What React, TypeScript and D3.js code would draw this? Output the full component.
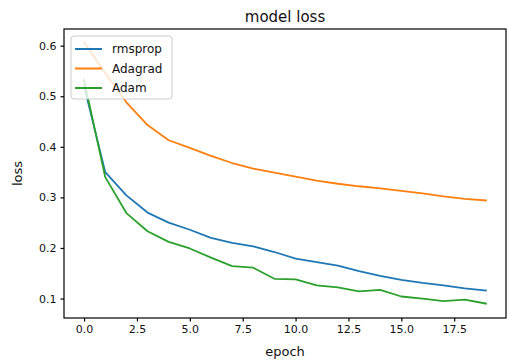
import React, { useEffect, useRef } from "react";
import * as d3 from "d3";

const epochs = d3.range(0, 20);

const rmsprop = [
  0.52, 0.35, 0.304, 0.27, 0.25, 0.236, 0.22, 0.21, 0.203, 0.192, 0.179, 0.172,
  0.165, 0.154, 0.145, 0.137, 0.131, 0.126, 0.12, 0.116,
];
const adagrad = [
  0.607, 0.546, 0.488, 0.443, 0.413, 0.398, 0.382, 0.368, 0.357, 0.349, 0.341,
  0.333, 0.327, 0.322, 0.318, 0.313, 0.308, 0.302, 0.297, 0.294,
];
const adam = [
  0.532, 0.34, 0.269, 0.233, 0.212, 0.199, 0.181, 0.164, 0.161, 0.139, 0.138,
  0.126, 0.122, 0.114, 0.117, 0.104, 0.1, 0.095, 0.098, 0.09,
];

const seriesNames = ["rmsprop", "Adagrad", "Adam"];
const seriesColors = ["#1f77b4", "#ff7f0e", "#2ca02c"];
const xTicks = [0, 2.5, 5, 7.5, 10, 12.5, 15, 17.5];
const yTicks = [0.1, 0.2, 0.3, 0.4, 0.5, 0.6];

const W = 508;
const H = 361;
const margin = { top: 29, right: 2, bottom: 43, left: 64 };

const App: React.FC = () => {
  const ref = useRef<SVGSVGElement | null>(null);

  useEffect(() => {
    if (!ref.current) return;
    const root = d3.select(ref.current);
    root.selectAll("*").remove();

    const width = W - margin.left - margin.right;
    const height = H - margin.top - margin.bottom;
    const font = "DejaVu Sans, sans-serif";

    root.append("rect").attr("width", W).attr("height", H).attr("fill", "#fff");

    const g = root
      .append("g")
      .attr("transform", `translate(${margin.left},${margin.top})`);

    const x = d3.scaleLinear().domain([-0.95, 19.95]).range([0, width]);
    const y = d3.scaleLinear().domain([0.0615, 0.633]).range([height, 0]);

    // lines
    const data = [rmsprop, adagrad, adam];
    const line = d3
      .line<number>()
      .x((_, i) => x(epochs[i]))
      .y((d) => y(d));

    data.forEach((vals, i) => {
      g.append("path")
        .datum(vals)
        .attr("fill", "none")
        .attr("stroke", seriesColors[i])
        .attr("stroke-width", 1.8)
        .attr("stroke-linejoin", "round")
        .attr("stroke-linecap", "square")
        .attr("d", line);
    });

    // axes
    const xAxis = g
      .append("g")
      .attr("transform", `translate(0,${height})`)
      .call(
        d3
          .axisBottom(x)
          .tickValues(xTicks)
          .tickFormat(d3.format(".1f"))
          .tickSize(3.5)
          .tickPadding(4)
      );
    const yAxis = g.append("g").call(
      d3
        .axisLeft(y)
        .tickValues(yTicks)
        .tickFormat(d3.format(".1f"))
        .tickSize(3.5)
        .tickPadding(4)
    );
    [xAxis, yAxis].forEach((a) => {
      a.select(".domain").remove();
      a.selectAll("line").attr("stroke", "#000").attr("stroke-width", 1.2);
      a.selectAll("text")
        .attr("font-family", font)
        .attr("font-size", 11)
        .attr("fill", "#111");
    });

    // spines
    g.append("rect")
      .attr("width", width)
      .attr("height", height)
      .attr("fill", "none")
      .attr("stroke", "#000")
      .attr("stroke-width", 1.2);

    // legend
    const lg = g.append("g").attr("transform", "translate(7,7)");
    lg.append("rect")
      .attr("width", 101)
      .attr("height", 63)
      .attr("rx", 3)
      .attr("fill", "#fff")
      .attr("fill-opacity", 0.8)
      .attr("stroke", "#ccc");
    seriesNames.forEach((name, i) => {
      const yy = 13 + i * 19.5;
      lg.append("line")
        .attr("x1", 4)
        .attr("x2", 31)
        .attr("y1", yy)
        .attr("y2", yy)
        .attr("stroke", seriesColors[i])
        .attr("stroke-width", 2);
      lg.append("text")
        .attr("x", 41)
        .attr("y", yy)
        .attr("dy", "0.35em")
        .attr("font-family", font)
        .attr("font-size", 12)
        .attr("fill", "#111")
        .text(name);
    });

    // title and labels
    root
      .append("text")
      .attr("x", margin.left + width / 2)
      .attr("y", 22)
      .attr("text-anchor", "middle")
      .attr("font-family", font)
      .attr("font-size", 15)
      .attr("fill", "#111")
      .text("model loss");

    root
      .append("text")
      .attr("x", margin.left + width / 2)
      .attr("y", 356)
      .attr("text-anchor", "middle")
      .attr("font-family", font)
      .attr("font-size", 13)
      .attr("fill", "#111")
      .text("epoch");

    root
      .append("text")
      .attr("transform", `translate(22,${margin.top + height / 2}) rotate(-90)`)
      .attr("text-anchor", "middle")
      .attr("font-family", font)
      .attr("font-size", 13)
      .attr("fill", "#111")
      .text("loss");
  }, []);

  return (
    <div style={{ position: "absolute", left: 0, top: 0 }}>
      <svg ref={ref} width={W} height={H} style={{ display: "block" }} />
    </div>
  );
};

export default App;
